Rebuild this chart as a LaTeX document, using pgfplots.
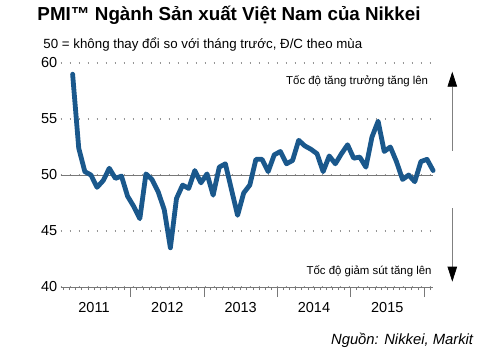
\documentclass[border=0pt]{standalone}
\usepackage{fontspec}
\setmainfont{Liberation Sans}
\usepackage{pgfplots}
\pgfplotsset{compat=1.18}
\usetikzlibrary{arrows.meta}
\definecolor{pmiblue}{RGB}{26,88,140}
\definecolor{gridgray}{RGB}{150,150,150}
\definecolor{axgray}{RGB}{120,120,120}
\begin{document}
\begin{tikzpicture}[x=1bp,y=1bp]
\path[use as bounding box] (0,0) rectangle (500,354);
\begin{axis}[
  at={(60.7bp,67bp)}, anchor=south west,
  scale only axis, width=372.4bp, height=224bp,
  xmin=0.55, xmax=61.5, ymin=40, ymax=60,
  axis x line*=bottom, axis y line*=left,
  y axis line style={draw=none},
  x axis line style={axgray, line width=0.8bp},
  ytick={40,45,50,55,60}, ytick style={draw=none},
  ymajorgrids, grid style={gridgray, line width=1.1bp, dash pattern=on 1.1bp off 7.9bp},
  xtick={6,18,30,42,54}, xticklabels={2011,2012,2013,2014,2015},
  major tick length=0pt,
  minor xtick={1,...,61}, minor tick length=3bp,
  extra x ticks={12,24,36,48,60}, extra x tick labels={},
  extra x tick style={major tick length=10bp, xmajorgrids=false},
  tick align=outside,
  every tick/.style={axgray, line width=0.6bp},
  tick label style={font=\fontsize{14.5bp}{16bp}\selectfont, black},
  xticklabel style={yshift=-12bp},
  /pgf/number format/assume math mode=true,
  clip=false,
]
\addplot[axgray, line width=1bp, forget plot] coordinates {(0.55,50) (61.5,50)};
\addplot[pmiblue, line width=4.8bp, line join=round, line cap=round] coordinates {
(2.5,59.0) (3.5,52.4) (4.5,50.3) (5.5,50.0) (6.5,48.9) (7.5,49.5) (8.5,50.6) (9.5,49.7)
(10.5,49.9) (11.5,48.1) (12.5,47.2) (13.5,46.1) (14.5,50.1) (15.5,49.6) (16.5,48.5) (17.5,46.9)
(18.5,43.5) (19.5,47.9) (20.5,49.1) (21.5,48.8) (22.5,50.4) (23.5,49.3) (24.5,50.1) (25.5,48.2)
(26.5,50.7) (27.5,51.0) (28.5,48.7) (29.5,46.4) (30.5,48.4) (31.5,49.1) (32.5,51.4) (33.5,51.4)
(34.5,50.3) (35.5,51.8) (36.5,52.1) (37.5,51.0) (38.5,51.3) (39.5,53.1) (40.5,52.6) (41.5,52.3)
(42.5,51.9) (43.5,50.3) (44.5,51.7) (45.5,51.0) (46.5,51.9) (47.5,52.7) (48.5,51.5) (49.5,51.6)
(50.5,50.7) (51.5,53.4) (52.5,54.8) (53.5,52.1) (54.5,52.5) (55.5,51.2) (56.5,49.6) (57.5,50.0)
(58.5,49.4) (59.5,51.2) (60.5,51.4) (61.5,50.4)
};
\end{axis}
\node[anchor=base west, inner sep=0pt, font=\fontsize{18.8bp}{22bp}\selectfont\bfseries] at (37.3,334) {PMI™ Ngành Sản xuất Việt Nam của Nikkei};
\node[anchor=base west, inner sep=0pt, font=\fontsize{13.3bp}{16bp}\selectfont] at (43.3,306) {50 = không thay đổi so với tháng trước, Đ/C theo mùa};
\node[anchor=base east, inner sep=0pt, font=\fontsize{11.4bp}{14bp}\selectfont] at (428.3,269.5) {Tốc độ tăng trưởng tăng lên};
\node[anchor=base east, inner sep=0pt, font=\fontsize{11.4bp}{14bp}\selectfont] at (431.7,80) {Tốc độ giảm sút tăng lên};
\draw[gray, line width=0.7bp, -{Triangle[width=9.5bp,length=15bp,black]}] (452.3,203.3) -- (452.3,282.3);
\draw[gray, line width=0.7bp, -{Triangle[width=9.5bp,length=15bp,black]}] (452.3,145.7) -- (452.3,72.3);
\node[anchor=base east, inner sep=0pt, font=\fontsize{14.8bp}{17bp}\selectfont\itshape] at (473.3,9.5) {Nguồn: Nikkei, Markit};
\end{tikzpicture}
\end{document}
